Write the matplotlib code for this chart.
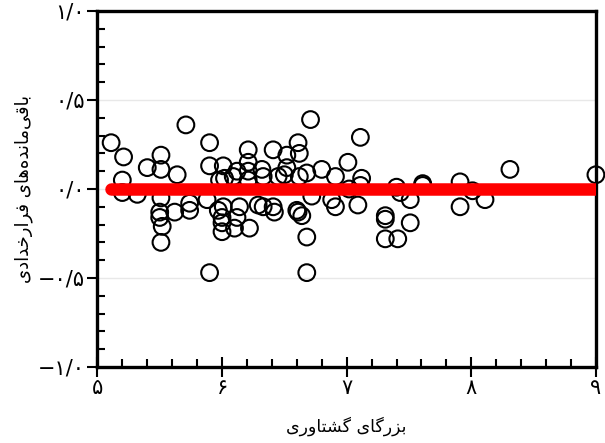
import numpy as np
import matplotlib
matplotlib.use('Agg')
import matplotlib.pyplot as plt
from matplotlib.ticker import MultipleLocator, FuncFormatter

# data
magnitude = [5.11, 5.21, 5.71, 5.40, 5.51, 5.51, 5.64, 5.20, 5.20, 5.32,
             5.50, 5.50, 5.52, 5.51, 5.62, 5.74, 5.88, 5.90, 5.90, 5.90,
             6.01, 6.02, 6.01, 6.00, 6.00, 6.00, 6.12, 6.10, 6.21, 6.21,
             6.21, 6.21, 6.22, 6.32, 6.29, 6.41, 6.41, 6.52, 6.52, 6.50,
             6.61, 6.62, 6.71, 6.68, 6.68, 6.68, 6.60, 6.72, 6.80, 6.91,
             6.88, 6.91, 7.01, 7.11, 7.12, 7.09, 6.64, 6.42, 6.61, 6.12,
             7.40, 7.31, 7.31, 7.31, 7.41, 7.51, 7.51, 7.61, 7.61, 7.91,
             7.91, 8.01, 8.11, 8.31, 9.00, 5.51, 5.98, 6.09, 6.33, 6.45,
             6.62, 5.97, 6.14, 6.33, 7.02, 7.11, 5.74, 7.43]
residual = [0.26, 0.18, 0.36, 0.12, 0.19, 0.11, 0.08, 0.05, -0.02, -0.03,
            -0.13, -0.16, -0.21, -0.30, -0.13, -0.12, -0.06, 0.26, 0.13, -0.47,
            0.13, 0.06, -0.10, -0.16, -0.19, -0.24, -0.16, -0.22, 0.22, 0.15,
            0.10, 0.05, -0.22, 0.11, -0.09, -0.10, 0.22, 0.19, 0.12, 0.08,
            0.26, 0.20, 0.39, 0.09, -0.27, -0.47, -0.12, -0.04, 0.11, 0.07,
            -0.06, -0.10, 0.15, 0.29, 0.06, -0.09, -0.15, -0.13, -0.13, 0.10,
            0.01, -0.15, -0.17, -0.28, -0.28, -0.06, -0.19, 0.03, 0.02, 0.04,
            -0.10, -0.01, -0.06, 0.11, 0.08, -0.05, 0.05, 0.07, 0.07, 0.07,
            0.07, -0.12, -0.10, -0.10, 0.00, 0.02, -0.08, -0.02]
fit_x = [min(magnitude), max(magnitude)]
fit_y = [0.0, 0.0]

x_label = 'بزرگای گشتاوری'
y_label = 'باقی\u200cمانده\u200cهای فرارخدادی'

# presentation forms: isolated, final, initial, medial
FORMS = {
    'ا': ('\uFE8D', '\uFE8E', None, None),
    'ب': ('\uFE8F', '\uFE90', '\uFE91', '\uFE92'),
    'ت': ('\uFE95', '\uFE96', '\uFE97', '\uFE98'),
    'خ': ('\uFEA5', '\uFEA6', '\uFEA7', '\uFEA8'),
    'د': ('\uFEA9', '\uFEAA', None, None),
    'ر': ('\uFEAD', '\uFEAE', None, None),
    'ز': ('\uFEAF', '\uFEB0', None, None),
    'ش': ('\uFEB5', '\uFEB6', '\uFEB7', '\uFEB8'),
    'ف': ('\uFED1', '\uFED2', '\uFED3', '\uFED4'),
    'ق': ('\uFED5', '\uFED6', '\uFED7', '\uFED8'),
    'م': ('\uFEE1', '\uFEE2', '\uFEE3', '\uFEE4'),
    'ن': ('\uFEE5', '\uFEE6', '\uFEE7', '\uFEE8'),
    'ه': ('\uFEE9', '\uFEEA', '\uFEEB', '\uFEEC'),
    'و': ('\uFEED', '\uFEEE', None, None),
    'ی': ('\uFBFC', '\uFBFD', '\uFBFE', '\uFBFF'),
    'گ': ('\uFB92', '\uFB93', '\uFB94', '\uFB95'),
}


def shape(text):
    # join letters and put them in visual (left to right) order
    out = []
    for i, c in enumerate(text):
        if c not in FORMS:
            if c != '\u200c':
                out.append(c)
            continue
        prev = text[i - 1] if i > 0 else ''
        nxt = text[i + 1] if i + 1 < len(text) else ''
        joins_prev = prev in FORMS and FORMS[prev][2] is not None
        joins_next = nxt in FORMS and FORMS[c][2] is not None
        iso, fin, ini, med = FORMS[c]
        if joins_prev and joins_next:
            out.append(med)
        elif joins_prev:
            out.append(fin)
        elif joins_next:
            out.append(ini)
        else:
            out.append(iso)
    return ''.join(reversed(out))


def persian_number(v, pos=None):
    s = f'{abs(v):.1f}'.replace('.', '/')
    s = s.translate(str.maketrans('0123456789', '۰۱۲۳۴۵۶۷۸۹'))
    if v < -1e-9:
        s = '\u2212' + s
    return s


def persian_int(v, pos=None):
    return str(int(round(v))).translate(str.maketrans('0123456789', '۰۱۲۳۴۵۶۷۸۹'))


fig = plt.figure(figsize=(6.05, 4.43), dpi=100)
ax = fig.add_axes([0.161, 0.1716, 0.824, 0.8036])

ax.set_xlim(5, 9)
ax.set_ylim(-1, 1)
ax.yaxis.grid(True, color='#e8e8e8', linewidth=1.0)
ax.set_axisbelow(True)

ax.scatter(magnitude, residual, s=145, facecolors='none', edgecolors='black',
           linewidths=1.5, zorder=3, clip_on=False)
ax.plot(fit_x, fit_y, color='#ff0000', linewidth=9, solid_capstyle='round', zorder=4)

for side in ['left', 'right', 'top', 'bottom']:
    ax.spines[side].set_linewidth(2.4)

ax.xaxis.set_major_locator(MultipleLocator(1))
ax.xaxis.set_minor_locator(MultipleLocator(0.2))
ax.yaxis.set_major_locator(MultipleLocator(0.5))
ax.yaxis.set_minor_locator(MultipleLocator(0.1))
ax.xaxis.set_major_formatter(FuncFormatter(persian_int))
ax.yaxis.set_major_formatter(FuncFormatter(persian_number))

ax.tick_params(axis='x', which='major', direction='inout', length=14, width=1.5,
               labelsize=15, pad=1)
ax.tick_params(axis='y', which='major', direction='out', length=7, width=1.5,
               labelsize=15, pad=2)
ax.tick_params(which='minor', direction='in', length=6, width=1.5)
ax.tick_params(top=False, right=False, which='both')

ax.set_xlabel(shape(x_label), fontsize=12.5, family='DejaVu Sans')
ax.set_ylabel(shape(y_label), fontsize=13, family='DejaVu Sans')
ax.xaxis.set_label_coords(0.5, -0.14)
ax.yaxis.set_label_coords(-0.129, 0.5)

fig.savefig('out.png', dpi=100)
